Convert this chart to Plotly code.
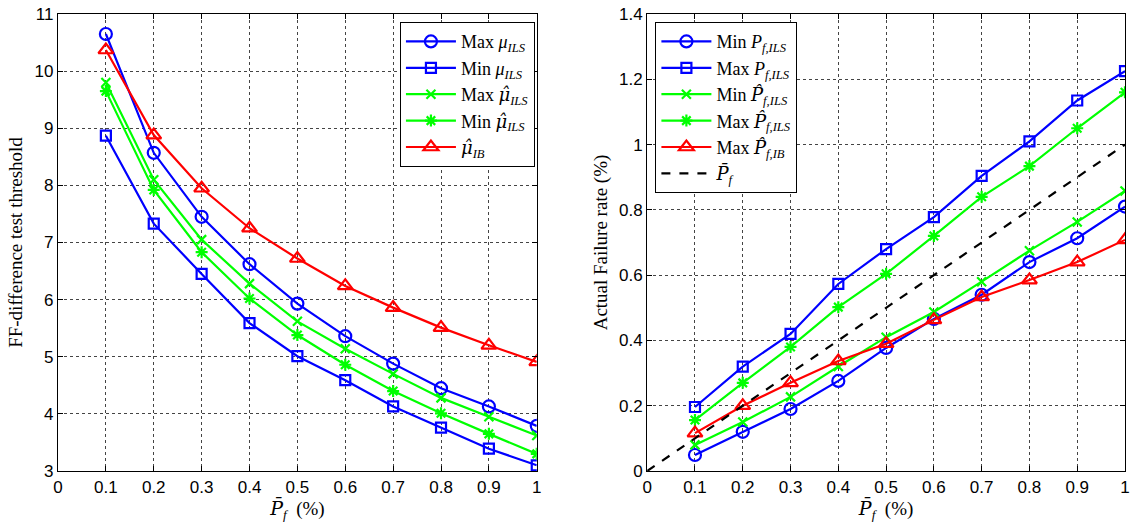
import plotly.graph_objects as go

# ---------------- data ----------------
x_pf = [0.1, 0.2, 0.3, 0.4, 0.5, 0.6, 0.7, 0.8, 0.9, 1.0]

# left panel: FF-difference test threshold
max_mu_ils = [10.65, 8.57, 7.45, 6.62, 5.93, 5.36, 4.88, 4.45, 4.13, 3.79]
min_mu_ils = [8.87, 7.33, 6.45, 5.59, 5.01, 4.59, 4.13, 3.76, 3.39, 3.10]
max_muhat_ils = [9.80, 8.10, 7.05, 6.28, 5.62, 5.14, 4.70, 4.28, 3.95, 3.62]
min_muhat_ils = [9.65, 7.92, 6.83, 6.02, 5.38, 4.86, 4.40, 4.01, 3.65, 3.30]
muhat_ib = [10.37, 8.88, 7.95, 7.25, 6.72, 6.24, 5.86, 5.51, 5.20, 4.91]

# right panel: actual failure rate (%)
min_pf_ils = [0.049, 0.12, 0.19, 0.276, 0.377, 0.466, 0.54, 0.64, 0.713, 0.81]
max_pf_ils = [0.196, 0.32, 0.42, 0.573, 0.68, 0.778, 0.904, 1.01, 1.135, 1.225]
min_pfhat_ils = [0.08, 0.15, 0.227, 0.32, 0.41, 0.487, 0.58, 0.675, 0.763, 0.858]
max_pfhat_ils = [0.156, 0.27, 0.38, 0.502, 0.604, 0.72, 0.84, 0.934, 1.05, 1.16]
max_pfhat_ib = [0.116, 0.2, 0.27, 0.337, 0.39, 0.463, 0.533, 0.585, 0.64, 0.708]
ref_x = [0, 1]
ref_y = [0, 1]

left_ticks = [3, 4, 5, 6, 7, 8, 9, 10, 11]
x_ticks = [0, 0.1, 0.2, 0.3, 0.4, 0.5, 0.6, 0.7, 0.8, 0.9, 1]
right_ticks = [0, 0.2, 0.4, 0.6, 0.8, 1, 1.2, 1.4]

BLUE = "#0000ff"
GREEN = "#00ff00"
RED = "#ff0000"

SERIF = '"Liberation Serif", "Times New Roman", serif'
SANS = '"Liberation Sans", Arial, sans-serif'

fig = go.Figure()

def add(x, y, name, color, symbol, xa, ya, legend, size=11):
    fig.add_trace(go.Scatter(
        x=x, y=y, name=name, mode="lines+markers",
        line=dict(color=color, width=2.2),
        marker=dict(symbol=symbol, size=size, color=color,
                    line=dict(color=color, width=2.2)),
        xaxis=xa, yaxis=ya, legend=legend))

def dv(s):
    return "<span style=\"font-family:'DejaVu Serif'\"><i>" + s + "</i></span>"

MUHAT = dv("μ̂")
PHAT = dv("P̂")
PBAR = dv("P̄")
ILS = "<sub><i>ILS</i></sub>"
add(x_pf, max_mu_ils, "Max <i>μ</i>" + ILS, BLUE, "circle-open", "x", "y", "legend", 12)
add(x_pf, min_mu_ils, "Min <i>μ</i>" + ILS, BLUE, "square-open", "x", "y", "legend", 10)
add(x_pf, max_muhat_ils, "Max " + MUHAT + ILS, GREEN, "x-thin-open", "x", "y", "legend", 9)
add(x_pf, min_muhat_ils, "Min " + MUHAT + ILS, GREEN, "asterisk-open", "x", "y", "legend", 10)
add(x_pf, muhat_ib, MUHAT + "<sub><i>IB</i></sub>", RED, "triangle-up-open", "x", "y", "legend", 13)

FILS = "<sub><i>f,ILS</i></sub>"
add(x_pf, min_pf_ils, "Min <i>P</i>" + FILS, BLUE, "circle-open", "x2", "y2", "legend2", 12)
add(x_pf, max_pf_ils, "Max <i>P</i>" + FILS, BLUE, "square-open", "x2", "y2", "legend2", 10)
add(x_pf, min_pfhat_ils, "Min " + PHAT + FILS, GREEN, "x-thin-open", "x2", "y2", "legend2", 9)
add(x_pf, max_pfhat_ils, "Max " + PHAT + FILS, GREEN, "asterisk-open", "x2", "y2", "legend2", 10)
add(x_pf, max_pfhat_ib, "Max " + PHAT + "<sub><i>f,IB</i></sub>", RED, "triangle-up-open", "x2", "y2", "legend2", 13)
fig.add_trace(go.Scatter(
    x=ref_x, y=ref_y, name=PBAR + "<sub><i>f</i></sub>", mode="lines",
    line=dict(color="black", width=2.2, dash="dash"),
    xaxis="x2", yaxis="y2", legend="legend2"))

axis_common = dict(
    showline=True, linecolor="black", linewidth=1.2, mirror="ticks",
    ticks="inside", ticklen=5, tickcolor="black",
    showgrid=True, gridcolor="#444444", griddash="dot", gridwidth=1,
    zeroline=False, tickfont=dict(family=SANS, size=17, color="black"),
)
xtitle = dict(text=PBAR + "<sub><i>f</i></sub>  (%)",
              font=dict(family=SERIF, size=19, color="black"), standoff=4)

fig.update_layout(
    width=1135, height=525,
    margin=dict(l=58, r=5, t=14, b=54),
    paper_bgcolor="white", plot_bgcolor="white",
    font=dict(family=SERIF),
    xaxis=dict(domain=[0, 0.4487], range=[0, 1], tickvals=x_ticks,
               title=xtitle, anchor="y", **axis_common),
    yaxis=dict(domain=[0, 1], range=[3, 11], tickvals=left_ticks,
               title=dict(text="FF-difference test threshold",
                          font=dict(family=SERIF, size=19, color="black"), standoff=6),
               anchor="x", **axis_common),
    xaxis2=dict(domain=[0.5522, 1.0], range=[0, 1], tickvals=x_ticks,
                title=xtitle, anchor="y2", **axis_common),
    yaxis2=dict(domain=[0, 1], range=[0, 1.4], tickvals=right_ticks,
                title=dict(text="Actual Failure rate (%)",
                           font=dict(family=SERIF, size=19, color="black"), standoff=6),
                anchor="x2", **axis_common),
    legend=dict(x=0.4468, y=0.9825, xanchor="right", yanchor="top",
                bgcolor="white", bordercolor="black", borderwidth=1.2,
                font=dict(family=SERIF, size=18, color="black"),
                itemwidth=50, tracegroupgap=0),
    legend2=dict(x=0.5597, y=0.9825, xanchor="left", yanchor="top",
                 bgcolor="white", bordercolor="black", borderwidth=1.2,
                 font=dict(family=SERIF, size=18, color="black"),
                 itemwidth=50, tracegroupgap=0),
    showlegend=True,
)

fig.write_html("out.html")
